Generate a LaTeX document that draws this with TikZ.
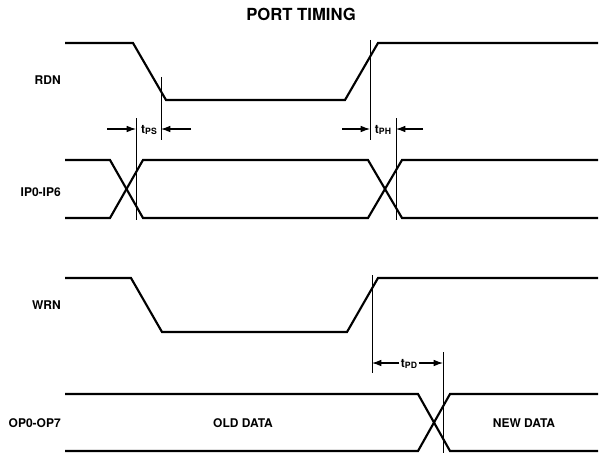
\documentclass[tikz,border=0pt]{standalone}
\usepackage{fontspec}
\setmainfont{TeX Gyre Heros}
\usetikzlibrary{arrows.meta}
\tikzstyle{sig}=[line width=1.6pt, line join=miter]
\tikzstyle{mk}=[line width=0.5pt]
\tikzstyle{dim}=[line width=0.8pt, -{Latex[length=7pt, width=5pt]}]
\tikzstyle{lbl}=[font=\bfseries\fontsize{9}{10}\selectfont, inner sep=0]
\tikzstyle{ttl}=[font=\bfseries\fontsize{12.5}{14}\selectfont, inner sep=0]
\newcommand{\tsub}[1]{t\raisebox{-1.2pt}{\fontsize{6.5}{7}\selectfont #1}}

\begin{document}
\begin{tikzpicture}[x=0.75pt, y=-0.75pt]
\useasboundingbox (0,0) rectangle (599,453);
\node[ttl] (title) at (301,14) {PORT TIMING};
\node[lbl, anchor=east] (rdn) at (61,80) {RDN};
\node[lbl, anchor=east] (ip) at (61,192) {IP0-IP6};
\node[lbl, anchor=east] (wrn) at (61,305) {WRN};
\node[lbl, anchor=east] (op) at (61,423) {OP0-OP7};
\node[lbl] (old) at (243,423) {OLD DATA};
\node[lbl] (new) at (524,423) {NEW DATA};
\draw[sig] (65,43)--(133,43)--(166,100)--(345,100)--(378,43)--(598,43);
\draw[sig] (65,160)--(110,160)--(143,218)--(368,218)--(402,160)--(598,160);
\draw[sig] (65,218)--(110,218)--(143,160)--(368,160)--(402,218)--(598,218);
\draw[sig] (65,278)--(131,278)--(162,332)--(347,332)--(378,278)--(598,278);
\draw[sig] (65,394)--(418,394)--(450,451)--(598,451);
\draw[sig] (65,451)--(418,451)--(450,394)--(598,394);
\draw[mk] (161,77)--(161,140);
\draw[mk] (370,40)--(370,140);
\draw[mk] (136,118)--(136,220);
\draw[mk] (396,118)--(396,220);
\draw[mk] (372,275)--(372,373);
\draw[mk] (443,352)--(443,453);
\node[lbl] (tps) at (149,130) {\tsub{PS}};
\node[lbl] (tph) at (383,130) {\tsub{PH}};
\node[lbl] (tpd) at (409,364) {\tsub{PD}};
\coordinate (ps1) at (107,129);
\coordinate (ps2) at (136,129);
\coordinate (ps3) at (191,129);
\coordinate (ps4) at (161,129);
\coordinate (ph1) at (342,129);
\coordinate (ph2) at (370,129);
\coordinate (ph3) at (423,129);
\coordinate (ph4) at (396,129);
\coordinate (pd1) at (372,363);
\coordinate (pd2) at (443,363);
\draw[dim] (ps1)--(ps2);
\draw[dim] (ps3)--(ps4);
\draw[dim] (ph1)--(ph2);
\draw[dim] (ph3)--(ph4);
\draw[dim] ([xshift=-1pt]tpd.west|-pd1)--(pd1);
\draw[dim] ([xshift=1pt]tpd.east|-pd2)--(pd2);
\end{tikzpicture}
\end{document}
